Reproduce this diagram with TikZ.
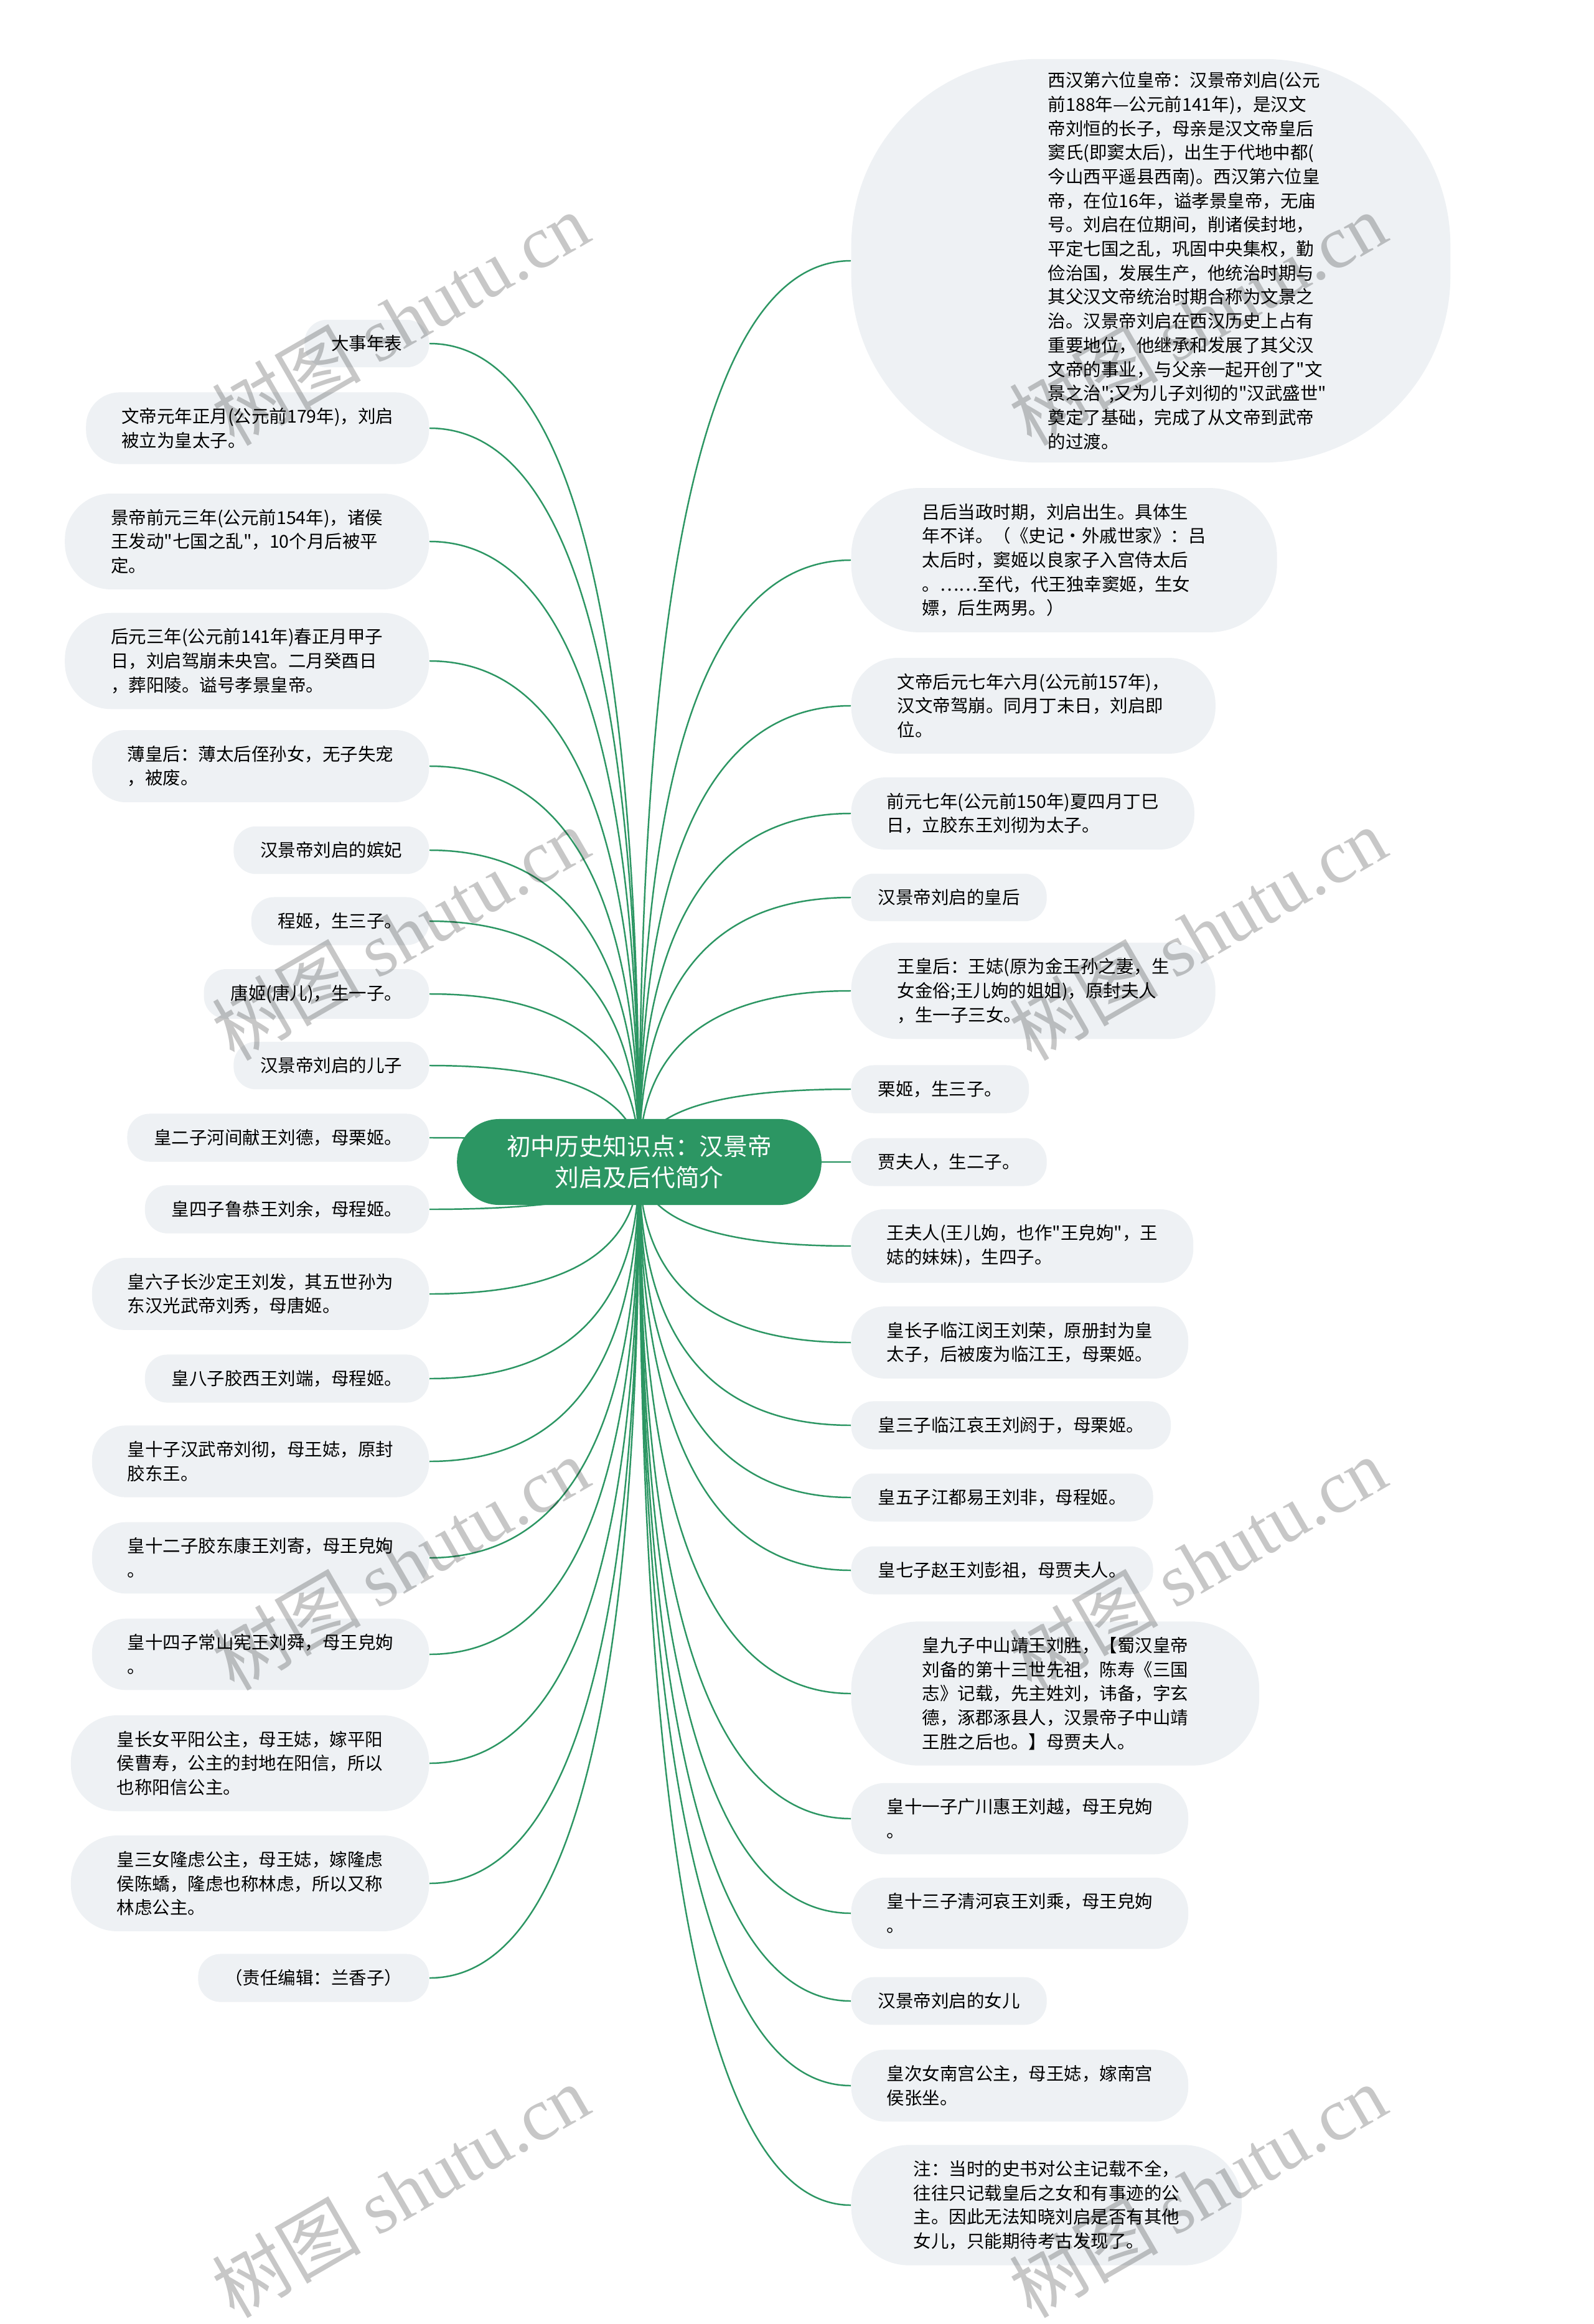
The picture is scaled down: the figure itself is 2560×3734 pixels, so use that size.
\documentclass[tikz,border=0pt]{standalone}
\usepackage{fontspec}
\setmainfont{Noto Sans CJK SC}
\newfontfamily\wmfont{Liberation Serif}
\usetikzlibrary{calc,backgrounds}
\definecolor{mapgreen}{RGB}{44,150,99}
\definecolor{leafgray}{RGB}{238,241,244}
\newcommand{\twig}[1]{\draw[branchline] (root.center) .. controls ($(root.center)!2/3!(root.center |- #1)$) and ($(#1)!2/3!(root.center |- #1)$) .. (#1);}
\newcommand{\qq}{\textquotedbl}

\tikzset{
	leafbox/.style={rectangle, fill=leafgray, inner ysep=0.25cm, align=left, font=\fontsize{8.1pt}{11pt}\selectfont},
	lbox/.style={leafbox, anchor=east},
	rbox/.style={leafbox, anchor=west},
	oneline/.style={minimum height=0.74cm, rounded corners=0.36cm, inner xsep=0.43cm},
	twoline/.style={minimum height=1.1cm, rounded corners=0.54cm, inner xsep=0.57cm},
	threeline/.style={minimum height=1.52cm, rounded corners=0.74cm, inner xsep=0.74cm},
	fourline/.style={minimum height=1.9cm, rounded corners=0.93cm, inner xsep=1cm},
	fiveline/.style={minimum height=2.2cm, rounded corners=1.08cm, inner xsep=1.14cm},
	topicbox/.style={rectangle, rounded corners=0.68cm, minimum height=1.38cm, fill=mapgreen, text=white, inner xsep=0.8cm, inner ysep=0.25cm, align=center, font=\fontsize{11pt}{14.2pt}\selectfont},
	branchline/.style={draw=mapgreen, line width=0.7pt},
	wmtext/.style={rotate=30, text=black, text opacity=0.22, font=\fontsize{34pt}{34pt}\selectfont}
}

\begin{document}
\begin{tikzpicture}[x=0.01cm, y=-0.01cm]
	\useasboundingbox (0,0) rectangle (2560,3734);
	% the topic
	\node[topicbox] (root) at (1027,1867) {初中历史知识点：汉景帝\\刘启及后代简介};
	% left side
	\node[lbox, oneline] (l1) at (690,552) {大事年表};
	\node[lbox, twoline] (l2) at (690,688) {文帝元年正月(公元前179年)，刘启\\被立为皇太子。};
	\node[lbox, threeline] (l3) at (690,870) {景帝前元三年(公元前154年)，诸侯\\王发动\qq{}七国之乱\qq{}，10个月后被平\\定。};
	\node[lbox, threeline] (l4) at (690,1062) {后元三年(公元前141年)春正月甲子\\日，刘启驾崩未央宫。二月癸酉日\\，葬阳陵。谥号孝景皇帝。};
	\node[lbox, twoline] (l5) at (690,1231) {薄皇后：薄太后侄孙女，无子失宠\\，被废。};
	\node[lbox, oneline] (l6) at (690,1366) {汉景帝刘启的嫔妃};
	\node[lbox, oneline] (l7) at (690,1480) {程姬，生三子。};
	\node[lbox, oneline] (l8) at (690,1597) {唐姬(唐儿)，生一子。};
	\node[lbox, oneline] (l9) at (690,1712) {汉景帝刘启的儿子};
	\node[lbox, oneline] (l10) at (690,1828) {皇二子河间献王刘德，母栗姬。};
	\node[lbox, oneline] (l11) at (690,1943) {皇四子鲁恭王刘余，母程姬。};
	\node[lbox, twoline] (l12) at (690,2079) {皇六子长沙定王刘发，其五世孙为\\东汉光武帝刘秀，母唐姬。};
	\node[lbox, oneline] (l13) at (690,2215) {皇八子胶西王刘端，母程姬。};
	\node[lbox, twoline] (l14) at (690,2348) {皇十子汉武帝刘彻，母王娡，原封\\胶东王。};
	\node[lbox, twoline] (l15) at (690,2503) {皇十二子胶东康王刘寄，母王皃姁\\。};
	\node[lbox, twoline] (l16) at (690,2658) {皇十四子常山宪王刘舜，母王皃姁\\。};
	\node[lbox, threeline] (l17) at (690,2833) {皇长女平阳公主，母王娡，嫁平阳\\侯曹寿，公主的封地在阳信，所以\\也称阳信公主。};
	\node[lbox, threeline] (l18) at (690,3026) {皇三女隆虑公主，母王娡，嫁隆虑\\侯陈蟜，隆虑也称林虑，所以又称\\林虑公主。};
	\node[lbox, oneline] (l19) at (690,3178) {（责任编辑：兰香子）};
	% right side
	\node[fill=leafgray, rounded corners=3cm, minimum width=9.62cm, minimum height=6.48cm, inner sep=0pt, anchor=west, font=\fontsize{8.1pt}{11pt}\selectfont] (r1) at (1367,419) {\hspace*{1.3cm}\parbox{4.6cm}{西汉第六位皇帝：汉景帝刘启(公元\\前188年—公元前141年)，是汉文\\帝刘恒的长子，母亲是汉文帝皇后\\窦氏(即窦太后)，出生于代地中都(\\今山西平遥县西南)。西汉第六位皇\\帝，在位16年，谥孝景皇帝，无庙\\号。刘启在位期间，削诸侯封地，\\平定七国之乱，巩固中央集权，勤\\俭治国，发展生产，他统治时期与\\其父汉文帝统治时期合称为文景之\\治。汉景帝刘启在西汉历史上占有\\重要地位，他继承和发展了其父汉\\文帝的事业，与父亲一起开创了\qq{}文\\景之治\qq{};又为儿子刘彻的\qq{}汉武盛世\qq{}\\奠定了基础，完成了从文帝到武帝\\的过渡。}};
	\node[rbox, fiveline] (r2) at (1367,900) {吕后当政时期，刘启出生。具体生\\年不详。（《史记·外戚世家》：吕\\太后时，窦姬以良家子入宫侍太后\\。……至代，代王独幸窦姬，生女\\嫖，后生两男。）};
	\node[rbox, threeline] (r3) at (1367,1134) {文帝后元七年六月(公元前157年)，\\汉文帝驾崩。同月丁未日，刘启即\\位。};
	\node[rbox, twoline] (r4) at (1367,1307) {前元七年(公元前150年)夏四月丁巳\\日，立胶东王刘彻为太子。};
	\node[rbox, oneline] (r5) at (1367,1442) {汉景帝刘启的皇后};
	\node[rbox, threeline] (r6) at (1367,1592) {王皇后：王娡(原为金王孙之妻，生\\女金俗;王儿姁的姐姐)，原封夫人\\，生一子三女。};
	\node[rbox, oneline] (r7) at (1367,1750) {栗姬，生三子。};
	\node[rbox, oneline] (r8) at (1367,1867) {贾夫人，生二子。};
	\node[rbox, twoline] (r9) at (1367,2002) {王夫人(王儿姁，也作\qq{}王皃姁\qq{}，王\\娡的妹妹)，生四子。};
	\node[rbox, twoline] (r10) at (1367,2157) {皇长子临江闵王刘荣，原册封为皇\\太子，后被废为临江王，母栗姬。};
	\node[rbox, oneline] (r11) at (1367,2290) {皇三子临江哀王刘阏于，母栗姬。};
	\node[rbox, oneline] (r12) at (1367,2406) {皇五子江都易王刘非，母程姬。};
	\node[rbox, oneline] (r13) at (1367,2523) {皇七子赵王刘彭祖，母贾夫人。};
	\node[rbox, fiveline] (r14) at (1367,2721) {皇九子中山靖王刘胜，【蜀汉皇帝\\刘备的第十三世先祖，陈寿《三国\\志》记载，先主姓刘，讳备，字玄\\德，涿郡涿县人，汉景帝子中山靖\\王胜之后也。】母贾夫人。};
	\node[rbox, twoline] (r15) at (1367,2922) {皇十一子广川惠王刘越，母王皃姁\\。};
	\node[rbox, twoline] (r16) at (1367,3074) {皇十三子清河哀王刘乘，母王皃姁\\。};
	\node[rbox, oneline] (r17) at (1367,3215) {汉景帝刘启的女儿};
	\node[rbox, twoline] (r18) at (1367,3351) {皇次女南宫公主，母王娡，嫁南宫\\侯张坐。};
	\node[rbox, fourline] (r19) at (1367,3543) {注：当时的史书对公主记载不全，\\往往只记载皇后之女和有事迹的公\\主。因此无法知晓刘启是否有其他\\女儿，只能期待考古发现了。};
	% branches behind the boxes
	\begin{scope}[on background layer]
		\fill[white] (0,0) rectangle (2560,3734);
		\foreach \i in {1,...,19} {\twig{l\i.east}}
		\foreach \i in {1,...,19} {\twig{r\i.west}}
	\end{scope}
	% watermark
	\foreach \wx in {643,1924} \foreach \wy in {512,1500,2512,3520}
		\node[wmtext] (wm-\wx-\wy) at (\wx,\wy) {树图 {\wmfont shutu.cn}};
\end{tikzpicture}
\end{document}
